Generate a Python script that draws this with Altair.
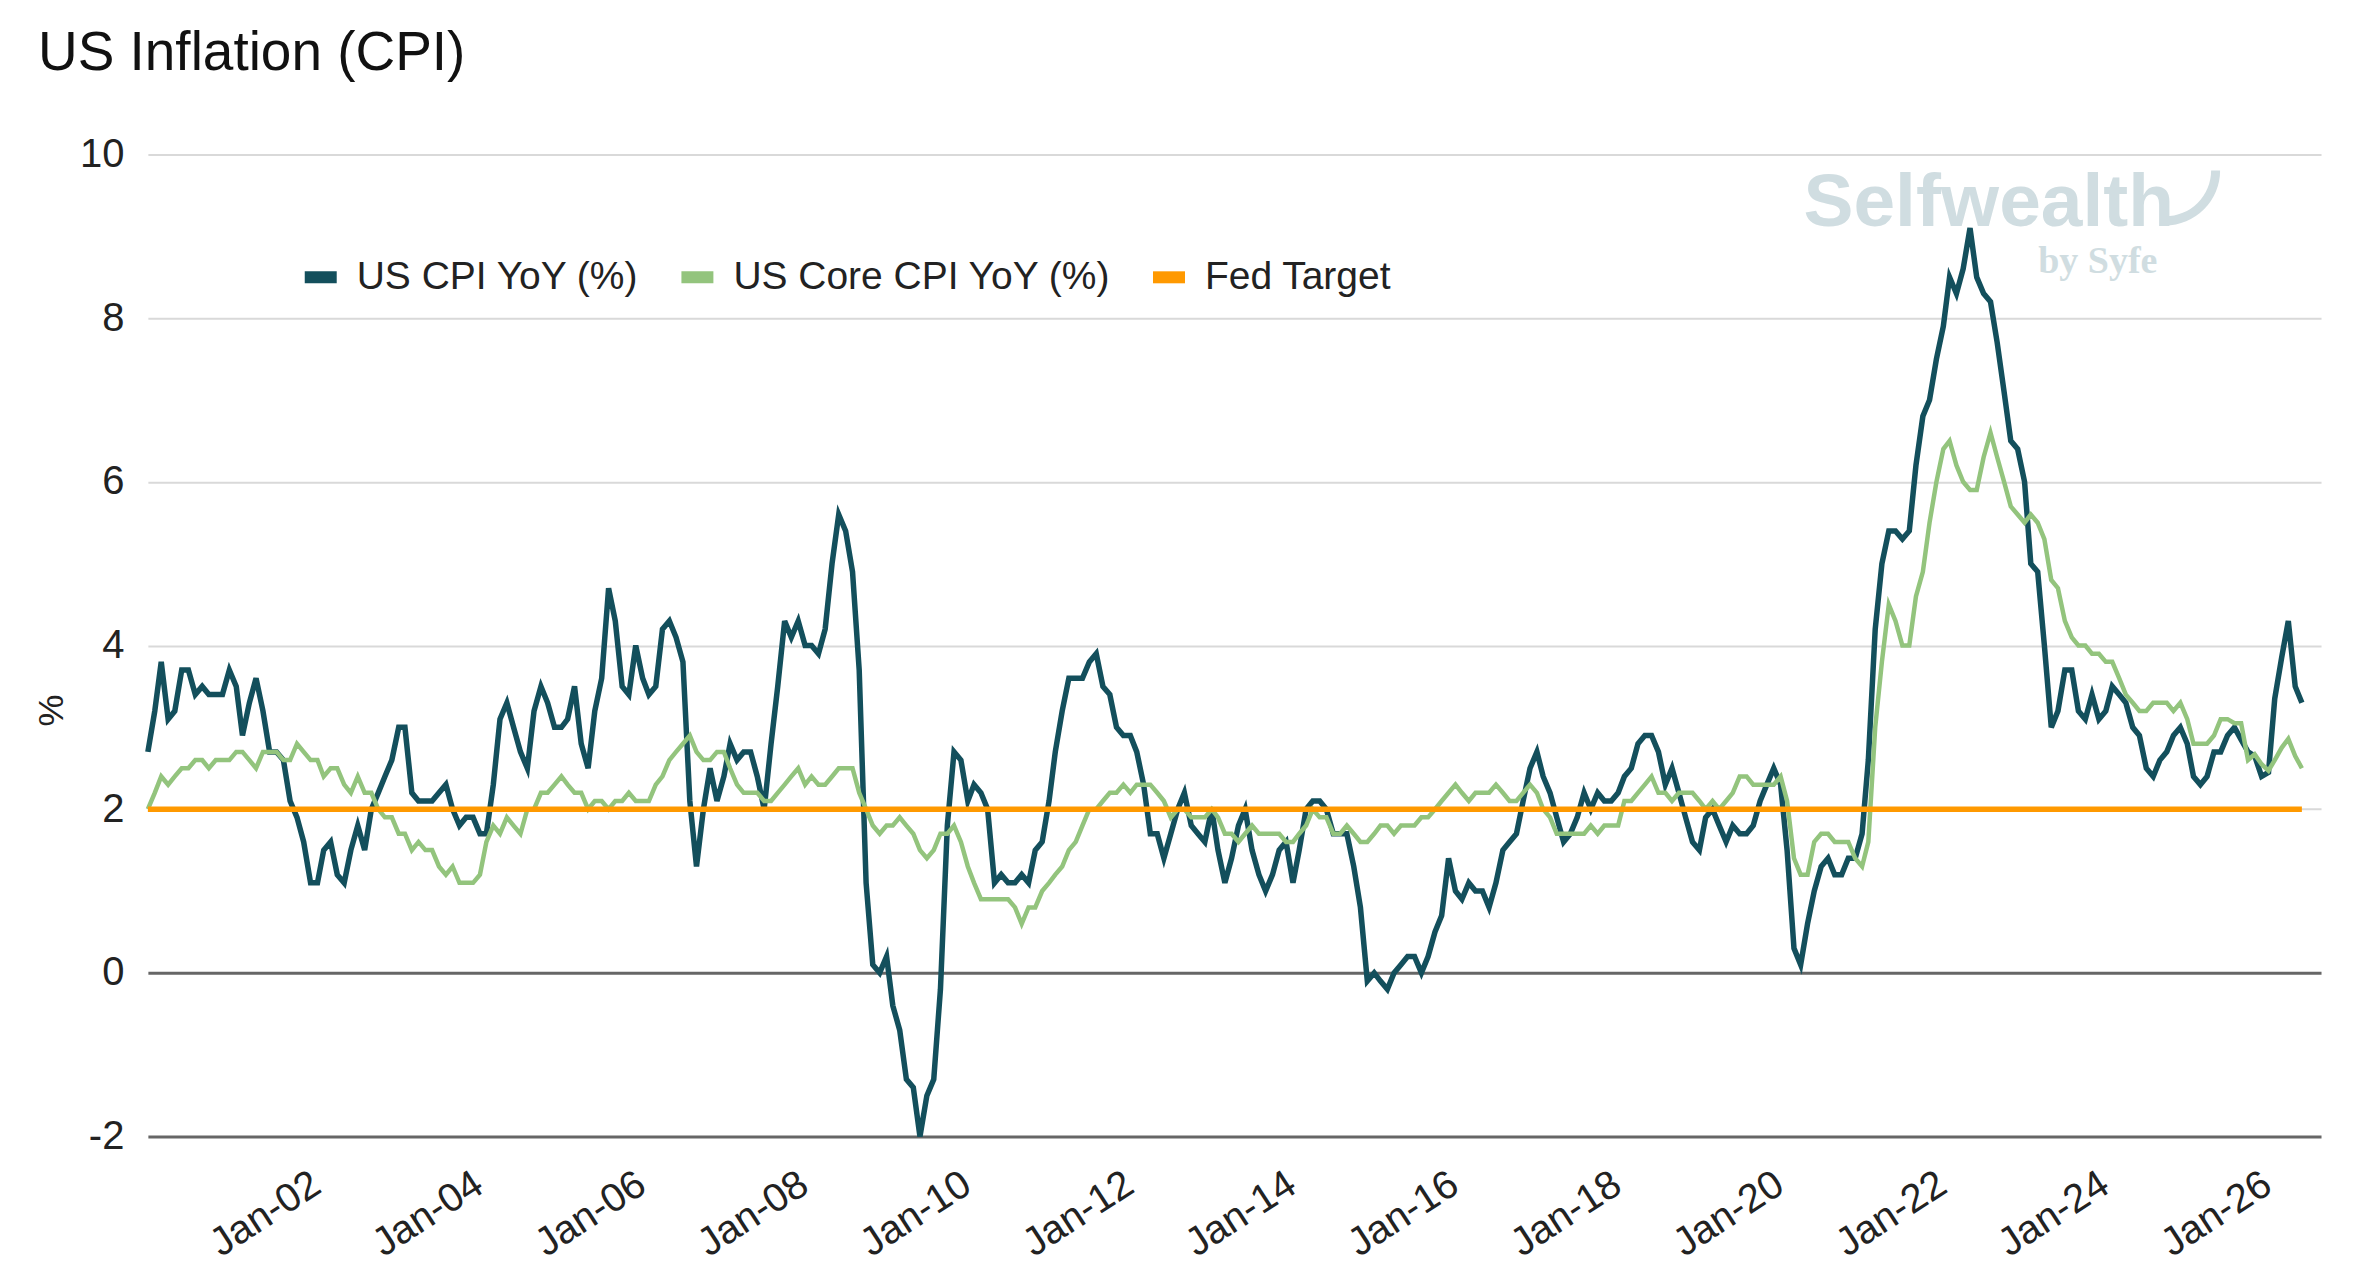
import math
import altair as alt
import pandas as pd

TITLE = "US Inflation (CPI)"
SERIES = ["US CPI YoY (%)", "US Core CPI YoY (%)", "Fed Target"]
COLORS = ["#134f5c", "#93c47d", "#ff9900"]
FED_TARGET = 2.0
START = "2000-01-01"
Y_TICKS = [-2, 0, 2, 4, 6, 8, 10]
X_TICK_YEARS = list(range(2002, 2027, 2))

# Monthly YoY %, Jan 2000 onwards
CPI_YOY = [
    2.7, 3.2, 3.8, 3.1, 3.2, 3.7, 3.7, 3.4, 3.5, 3.4, 3.4, 3.4,      # 2000
    3.7, 3.5, 2.9, 3.3, 3.6, 3.2, 2.7, 2.7, 2.6, 2.1, 1.9, 1.6,      # 2001
    1.1, 1.1, 1.5, 1.6, 1.2, 1.1, 1.5, 1.8, 1.5, 2.0, 2.2, 2.4,      # 2002
    2.6, 3.0, 3.0, 2.2, 2.1, 2.1, 2.1, 2.2, 2.3, 2.0, 1.8, 1.9,      # 2003
    1.9, 1.7, 1.7, 2.3, 3.1, 3.3, 3.0, 2.7, 2.5, 3.2, 3.5, 3.3,      # 2004
    3.0, 3.0, 3.1, 3.5, 2.8, 2.5, 3.2, 3.6, 4.7, 4.3, 3.5, 3.4,      # 2005
    4.0, 3.6, 3.4, 3.5, 4.2, 4.3, 4.1, 3.8, 2.1, 1.3, 2.0, 2.5,      # 2006
    2.1, 2.4, 2.8, 2.6, 2.7, 2.7, 2.4, 2.0, 2.8, 3.5, 4.3, 4.1,      # 2007
    4.3, 4.0, 4.0, 3.9, 4.2, 5.0, 5.6, 5.4, 4.9, 3.7, 1.1, 0.1,      # 2008
    0.0, 0.2, -0.4, -0.7, -1.3, -1.4, -2.0, -1.5, -1.3, -0.2, 1.8, 2.7,  # 2009
    2.6, 2.1, 2.3, 2.2, 2.0, 1.1, 1.2, 1.1, 1.1, 1.2, 1.1, 1.5,      # 2010
    1.6, 2.1, 2.7, 3.2, 3.6, 3.6, 3.6, 3.8, 3.9, 3.5, 3.4, 3.0,      # 2011
    2.9, 2.9, 2.7, 2.3, 1.7, 1.7, 1.4, 1.7, 2.0, 2.2, 1.8, 1.7,      # 2012
    1.6, 2.0, 1.5, 1.1, 1.4, 1.8, 2.0, 1.5, 1.2, 1.0, 1.2, 1.5,      # 2013
    1.6, 1.1, 1.5, 2.0, 2.1, 2.1, 2.0, 1.7, 1.7, 1.7, 1.3, 0.8,      # 2014
    -0.1, 0.0, -0.1, -0.2, 0.0, 0.1, 0.2, 0.2, 0.0, 0.2, 0.5, 0.7,   # 2015
    1.4, 1.0, 0.9, 1.1, 1.0, 1.0, 0.8, 1.1, 1.5, 1.6, 1.7, 2.1,      # 2016
    2.5, 2.7, 2.4, 2.2, 1.9, 1.6, 1.7, 1.9, 2.2, 2.0, 2.2, 2.1,      # 2017
    2.1, 2.2, 2.4, 2.5, 2.8, 2.9, 2.9, 2.7, 2.3, 2.5, 2.2, 1.9,      # 2018
    1.6, 1.5, 1.9, 2.0, 1.8, 1.6, 1.8, 1.7, 1.7, 1.8, 2.1, 2.3,      # 2019
    2.5, 2.3, 1.5, 0.3, 0.1, 0.6, 1.0, 1.3, 1.4, 1.2, 1.2, 1.4,      # 2020
    1.4, 1.7, 2.6, 4.2, 5.0, 5.4, 5.4, 5.3, 5.4, 6.2, 6.8, 7.0,      # 2021
    7.5, 7.9, 8.5, 8.3, 8.6, 9.1, 8.5, 8.3, 8.2, 7.7, 7.1, 6.5,      # 2022
    6.4, 6.0, 5.0, 4.9, 4.0, 3.0, 3.2, 3.7, 3.7, 3.2, 3.1, 3.4,      # 2023
    3.1, 3.2, 3.5, 3.4, 3.3, 3.0, 2.9, 2.5, 2.4, 2.6, 2.7, 2.9,      # 2024
    3.0, 2.8, 2.4, 2.3, 2.4, 2.7, 2.7, 2.9, 3.0, 2.85, 2.7, 2.65,    # 2025
    2.4, 2.45, 3.35, 3.85, 4.3, 3.5, 3.3,                            # 2026
]

CORE_YOY = [
    2.0, 2.2, 2.4, 2.3, 2.4, 2.5, 2.5, 2.6, 2.6, 2.5, 2.6, 2.6,      # 2000
    2.6, 2.7, 2.7, 2.6, 2.5, 2.7, 2.7, 2.7, 2.6, 2.6, 2.8, 2.7,      # 2001
    2.6, 2.6, 2.4, 2.5, 2.5, 2.3, 2.2, 2.4, 2.2, 2.2, 2.0, 1.9,      # 2002
    1.9, 1.7, 1.7, 1.5, 1.6, 1.5, 1.5, 1.3, 1.2, 1.3, 1.1, 1.1,      # 2003
    1.1, 1.2, 1.6, 1.8, 1.7, 1.9, 1.8, 1.7, 2.0, 2.0, 2.2, 2.2,      # 2004
    2.3, 2.4, 2.3, 2.2, 2.2, 2.0, 2.1, 2.1, 2.0, 2.1, 2.1, 2.2,      # 2005
    2.1, 2.1, 2.1, 2.3, 2.4, 2.6, 2.7, 2.8, 2.9, 2.7, 2.6, 2.6,      # 2006
    2.7, 2.7, 2.5, 2.3, 2.2, 2.2, 2.2, 2.1, 2.1, 2.2, 2.3, 2.4,      # 2007
    2.5, 2.3, 2.4, 2.3, 2.3, 2.4, 2.5, 2.5, 2.5, 2.2, 2.0, 1.8,      # 2008
    1.7, 1.8, 1.8, 1.9, 1.8, 1.7, 1.5, 1.4, 1.5, 1.7, 1.7, 1.8,      # 2009
    1.6, 1.3, 1.1, 0.9, 0.9, 0.9, 0.9, 0.9, 0.8, 0.6, 0.8, 0.8,      # 2010
    1.0, 1.1, 1.2, 1.3, 1.5, 1.6, 1.8, 2.0, 2.0, 2.1, 2.2, 2.2,      # 2011
    2.3, 2.2, 2.3, 2.3, 2.3, 2.2, 2.1, 1.9, 2.0, 2.0, 1.9, 1.9,      # 2012
    1.9, 2.0, 1.9, 1.7, 1.7, 1.6, 1.7, 1.8, 1.7, 1.7, 1.7, 1.7,      # 2013
    1.6, 1.6, 1.7, 1.8, 2.0, 1.9, 1.9, 1.7, 1.7, 1.8, 1.7, 1.6,      # 2014
    1.6, 1.7, 1.8, 1.8, 1.7, 1.8, 1.8, 1.8, 1.9, 1.9, 2.0, 2.1,      # 2015
    2.2, 2.3, 2.2, 2.1, 2.2, 2.2, 2.2, 2.3, 2.2, 2.1, 2.1, 2.2,      # 2016
    2.3, 2.2, 2.0, 1.9, 1.7, 1.7, 1.7, 1.7, 1.7, 1.8, 1.7, 1.8,      # 2017
    1.8, 1.8, 2.1, 2.1, 2.2, 2.3, 2.4, 2.2, 2.2, 2.1, 2.2, 2.2,      # 2018
    2.2, 2.1, 2.0, 2.1, 2.0, 2.1, 2.2, 2.4, 2.4, 2.3, 2.3, 2.3,      # 2019
    2.3, 2.4, 2.1, 1.4, 1.2, 1.2, 1.6, 1.7, 1.7, 1.6, 1.6, 1.6,      # 2020
    1.4, 1.3, 1.6, 3.0, 3.8, 4.5, 4.3, 4.0, 4.0, 4.6, 4.9, 5.5,      # 2021
    6.0, 6.4, 6.5, 6.2, 6.0, 5.9, 5.9, 6.3, 6.6, 6.3, 6.0, 5.7,      # 2022
    5.6, 5.5, 5.6, 5.5, 5.3, 4.8, 4.7, 4.3, 4.1, 4.0, 4.0, 3.9,      # 2023
    3.9, 3.8, 3.8, 3.6, 3.4, 3.3, 3.2, 3.2, 3.3, 3.3, 3.3, 3.2,      # 2024
    3.3, 3.1, 2.8, 2.8, 2.8, 2.9, 3.1, 3.1, 3.05, 3.05, 2.6, 2.67,   # 2025
    2.55, 2.47, 2.6, 2.75, 2.86, 2.65, 2.5,                          # 2026
]

dates = pd.date_range(START, periods=len(CPI_YOY), freq="MS")
cpi_df = pd.DataFrame({"date": dates, "value": CPI_YOY, "series": SERIES[0]})
core_df = pd.DataFrame({"date": dates, "value": CORE_YOY, "series": SERIES[1]})
fed_df = pd.DataFrame({"start": [dates[0]], "end": [dates[-1]],
                       "value": [FED_TARGET], "series": [SERIES[2]]})

FONT = "Liberation Sans"
TXT = "#222222"

x_axis = alt.Axis(
    values=[alt.DateTime(year=y, month=1, date=1) for y in X_TICK_YEARS],
    format="%b-%y", labelAngle=-33, labelAlign="right", labelBaseline="top",
    labelPadding=27, labelOffset=-5, labelFontSize=40, labelFont=FONT,
    labelColor=TXT, labelOverlap=False, labelFlush=False,
    ticks=False, domain=False, grid=False, title=None,
)
y_axis = alt.Axis(
    values=Y_TICKS, labelFontSize=40, labelFont=FONT, labelColor=TXT,
    labelExpr="datum.value + ''",
    labelPadding=24, ticks=False, domain=False, grid=True,
    gridColor=alt.condition("datum.value <= 0", alt.value("#666666"), alt.value("#d9d9d9")),
    gridWidth=alt.condition("datum.value <= 0", alt.value(3), alt.value(2)),
    title="%", titleAngle=-90, titleX=-96, titleY=556, titleFontSize=36,
    titleFont=FONT, titleFontWeight="normal", titleColor=TXT,
    titleAlign="center", titleBaseline="middle",
)
x_scale = alt.Scale(domain=[alt.DateTime(year=2000, month=1, date=1),
                            alt.DateTime(year=2026, month=9, date=25)], nice=False)
y_scale = alt.Scale(domain=[-2, 10], nice=False, zero=False)

color_scale = alt.Scale(domain=SERIES, range=COLORS)
legend = alt.Legend(
    title=None, orient="none", legendX=151, legendY=101, direction="horizontal",
    columns=3, columnPadding=18, labelFontSize=39, labelFont=FONT, labelColor=TXT,
    labelLimit=1000, labelOffset=14, symbolType="stroke", symbolSize=1024,
    symbolStrokeWidth=12, padding=0,
)
color_enc = alt.Color("series:N", scale=color_scale, legend=legend)

WM = "#d0dde1"
wm_main = alt.Chart(pd.DataFrame({"t": ["Selfwealth"]})).mark_text(
    font=FONT, fontSize=75, fontWeight="bold", color=WM, align="left", baseline="alphabetic"
).encode(text="t:N", x=alt.value(1657), y=alt.value(72))
wm_sub = alt.Chart(pd.DataFrame({"t": ["by Syfe"]})).mark_text(
    font="Liberation Serif", fontSize=38, fontWeight="bold", color=WM, align="left",
    baseline="alphabetic"
).encode(text="t:N", x=alt.value(1892), y=alt.value(119))
wm_swoosh = alt.Chart(pd.DataFrame({"t": [1]})).mark_arc(
    theta=math.pi / 2, theta2=math.pi, radius=55, radius2=46, color=WM
).encode(x=alt.value(2019), y=alt.value(16))

cpi_line = alt.Chart(cpi_df).mark_line(strokeWidth=5.5).encode(
    x=alt.X("date:T", scale=x_scale, axis=x_axis),
    y=alt.Y("value:Q", scale=y_scale, axis=y_axis),
    color=color_enc,
)
core_line = alt.Chart(core_df).mark_line(strokeWidth=4.5).encode(
    x=alt.X("date:T", scale=x_scale, axis=x_axis),
    y=alt.Y("value:Q", scale=y_scale, axis=y_axis),
    color=color_enc,
)
fed_rule = alt.Chart(fed_df).mark_rule(strokeWidth=5.5).encode(
    x=alt.X("start:T", scale=x_scale, axis=x_axis),
    x2="end:T",
    y=alt.Y("value:Q", scale=y_scale, axis=y_axis),
    color=color_enc,
)

chart = alt.layer(wm_main, wm_sub, wm_swoosh, cpi_line, core_line, fed_rule).properties(
    width=2175, height=983,
    autosize=alt.AutoSizeParams(type="none"),
    padding={"left": 140, "top": 146, "right": 30, "bottom": 130},
    title=alt.Title(TITLE, anchor="start", frame="group", dx=-110, offset=52,
                    fontSize=55, fontWeight="normal", font=FONT, color="#111111"),
).configure(background="white").configure_view(stroke=None)

chart.save("out.html", embed_options={"renderer": "svg", "actions": False})
